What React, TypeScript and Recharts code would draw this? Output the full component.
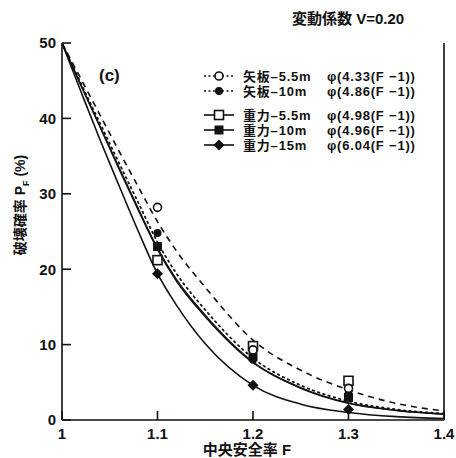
import { ComposedChart, Line, Scatter, XAxis, YAxis } from 'recharts';

// curves, P_F (%) at each F
const F_GRID = [1, 1.02, 1.04, 1.06, 1.08, 1.1, 1.12, 1.15, 1.2, 1.25, 1.3, 1.35, 1.4];
const CURVE_433 = [50, 45.2, 40.4, 35.6, 30.9, 26.3, 22.4, 17.6, 10.6, 6.6, 4.0, 2.2, 1.2];
const CURVE_486 = [50, 44.6, 39.3, 34.0, 28.8, 23.6, 19.4, 14.6, 8.2, 4.6, 2.5, 1.4, 0.85];
const CURVE_498 = [50, 44.3, 38.8, 33.2, 27.8, 22.6, 18.4, 13.7, 7.6, 4.2, 2.2, 1.25, 0.75];
const CURVE_496 = [50, 44.4, 38.9, 33.4, 28.0, 22.8, 18.6, 13.9, 7.7, 4.3, 2.25, 1.3, 0.8];
const CURVE_604 = [50, 43.5, 37.1, 31.0, 25.0, 19.4, 15.2, 10.1, 4.6, 2.1, 1.0, 0.45, 0.2];

// measured points
const F_PTS = [1.1, 1.2, 1.3];
const YAITA_55 = [28.2, 9.3, 4.2];
const YAITA_10 = [24.8, 8.0, 3.4];
const JURYOKU_55 = [21.2, 9.8, 5.2];
const JURYOKU_10 = [23.0, 8.4, 3.0];
const JURYOKU_15 = [19.4, 4.6, 1.4];

const X_TICKS = [1, 1.1, 1.2, 1.3, 1.4];
const Y_TICKS = [0, 10, 20, 30, 40, 50];

const LEGEND_ROWS = [
  { name: '矢板–5.5m', formula: 'φ(4.33(F −1))' },
  { name: '矢板–10m', formula: 'φ(4.86(F −1))' },
  { name: '重力–5.5m', formula: 'φ(4.98(F −1))' },
  { name: '重力–10m', formula: 'φ(4.96(F −1))' },
  { name: '重力–15m', formula: 'φ(6.04(F −1))' },
];

const curve = (vals: number[]) => F_GRID.map((f, i) => ({ f, p: vals[i] }));
const pts = (vals: number[]) => F_PTS.map((f, i) => ({ f, p: vals[i] }));

const INK = '#111';
const FONT = '"Liberation Sans", Arial, "Noto Sans CJK JP", sans-serif';

const openCircle = (p: any) => <circle cx={p.cx} cy={p.cy} r={4} fill="#fff" stroke={INK} strokeWidth={1.6} />;
const dotCircle = (p: any) => <circle cx={p.cx} cy={p.cy} r={4} fill={INK} />;
const openSquare = (p: any) => <rect x={p.cx - 4.5} y={p.cy - 4.5} width={9} height={9} fill="#fff" stroke={INK} strokeWidth={1.6} />;
const fullSquare = (p: any) => <rect x={p.cx - 4.5} y={p.cy - 4.5} width={9} height={9} fill={INK} />;
const diamond = (p: any) => (
  <path d={`M${p.cx},${p.cy - 5.5}L${p.cx + 5.5},${p.cy}L${p.cx},${p.cy + 5.5}L${p.cx - 5.5},${p.cy}Z`} fill={INK} />
);

const tickStyle = { fill: INK, fontSize: 15, fontWeight: 700, fontFamily: FONT };

function LegendMark({ i, y }: { i: number; y: number }) {
  const dashed = i < 2;
  const line = <line x1={204} x2={234} y1={y} y2={y} stroke={INK} strokeWidth={1.6} strokeDasharray={dashed ? '2 2.5' : undefined} />;
  const c = { cx: 219, cy: y };
  const mark = [openCircle, dotCircle, openSquare, fullSquare, diamond][i](c);
  return <g>{line}{mark}</g>;
}

export default function App() {
  const rowsY = [76, 91, 115, 130, 145];
  return (
    <div style={{ position: 'absolute', left: 0, top: 0, width: 456, height: 458, background: '#fff' }}>
      <ComposedChart width={456} height={458} margin={{ top: 43, right: 0, left: 0, bottom: 0 }}>
        <XAxis
          dataKey="f"
          type="number"
          domain={[1, 1.4]}
          ticks={X_TICKS}
          allowDataOverflow
          height={38}
          tickSize={-9}
          tickMargin={17}
          tickFormatter={(v: number) => String(v)}
          tick={tickStyle}
          axisLine={{ stroke: INK, strokeWidth: 1.6 }}
          tickLine={{ stroke: INK, strokeWidth: 1.6 }}
        />
        <XAxis
          xAxisId="top"
          orientation="top"
          dataKey="f"
          type="number"
          domain={[1, 1.4]}
          ticks={X_TICKS}
          allowDataOverflow
          height={0}
          tickSize={-8}
          tick={false}
          axisLine={{ stroke: INK, strokeWidth: 1.6 }}
          tickLine={{ stroke: INK, strokeWidth: 1.6 }}
        />
        <YAxis
          type="number"
          domain={[0, 50]}
          ticks={Y_TICKS}
          allowDataOverflow
          width={62}
          tickSize={-9}
          tickMargin={15}
          tick={tickStyle}
          axisLine={{ stroke: INK, strokeWidth: 1.6 }}
          tickLine={{ stroke: INK, strokeWidth: 1.6 }}
        />
        <YAxis
          yAxisId="right"
          orientation="right"
          type="number"
          domain={[0, 50]}
          ticks={Y_TICKS}
          allowDataOverflow
          width={12}
          tickSize={-8}
          tick={false}
          axisLine={{ stroke: INK, strokeWidth: 1.6 }}
          tickLine={{ stroke: INK, strokeWidth: 1.6 }}
        />
        <Line data={curve(CURVE_433)} dataKey="p" type="monotone" stroke={INK} strokeWidth={1.6} strokeDasharray="6 5" dot={false} isAnimationActive={false} />
        <Line data={curve(CURVE_486)} dataKey="p" type="monotone" stroke={INK} strokeWidth={1.8} strokeDasharray="1.5 4" strokeLinecap="round" dot={false} isAnimationActive={false} />
        <Line data={curve(CURVE_498)} dataKey="p" type="monotone" stroke={INK} strokeWidth={1.4} dot={false} isAnimationActive={false} />
        <Line data={curve(CURVE_496)} dataKey="p" type="monotone" stroke={INK} strokeWidth={1.4} dot={false} isAnimationActive={false} />
        <Line data={curve(CURVE_604)} dataKey="p" type="monotone" stroke={INK} strokeWidth={1.6} dot={false} isAnimationActive={false} />
        <Scatter data={pts(JURYOKU_15)} dataKey="p" shape={diamond} isAnimationActive={false} />
        <Scatter data={pts(JURYOKU_10)} dataKey="p" shape={fullSquare} isAnimationActive={false} />
        <Scatter data={pts(YAITA_10)} dataKey="p" shape={dotCircle} isAnimationActive={false} />
        <Scatter data={pts(JURYOKU_55)} dataKey="p" shape={openSquare} isAnimationActive={false} />
        <Scatter data={pts(YAITA_55)} dataKey="p" shape={openCircle} isAnimationActive={false} />
      </ComposedChart>
      <svg width={456} height={458} style={{ position: 'absolute', left: 0, top: 0, pointerEvents: 'none' }}>
        <text x={292} y={24} fontFamily={FONT} fontSize={15} fontWeight={700} fill={INK}>変動係数 V=0.20</text>
        <text x={99} y={81} fontFamily={FONT} fontSize={17} fontWeight={700} fill={INK}>(c)</text>
        {LEGEND_ROWS.map((r, i) => (
          <g key={r.name}>
            <LegendMark i={i} y={rowsY[i]} />
            <text x={243} y={rowsY[i] + 5} fontFamily={FONT} fontSize={13} fontWeight={700} fill={INK} letterSpacing={0.8}>{r.name}</text>
            <text x={327} y={rowsY[i] + 5} fontFamily={FONT} fontSize={13} fontWeight={700} fill={INK} letterSpacing={0.8}>{r.formula}</text>
          </g>
        ))}
        <text
          transform="translate(25,205) rotate(-90)"
          textAnchor="middle"
          fontFamily={FONT}
          fontSize={14}
          fontWeight={700}
          fill={INK}
        >
          破壊確率 P<tspan fontSize={9} dy={4}>F</tspan><tspan dy={-4}> (%)</tspan>
        </text>
        <text x={247} y={455} textAnchor="middle" fontFamily={FONT} fontSize={15} fontWeight={700} fill={INK}>中央安全率 F</text>
      </svg>
    </div>
  );
}
